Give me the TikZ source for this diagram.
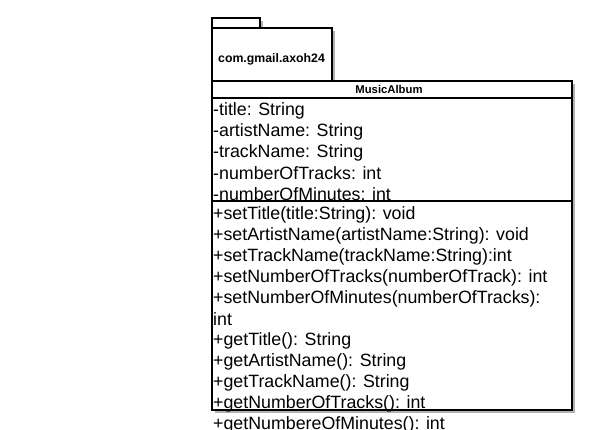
\documentclass[tikz,border=0pt]{standalone}
\usepackage{fontspec}
\setmainfont{Liberation Sans}
\usetikzlibrary{positioning}

\begin{document}
\begin{tikzpicture}[
  x=1pt, y=-1pt,
  every node/.style={inner sep=0pt},
  shadow/.style={fill=black!30, draw=none},
  frame/.style={rectangle, draw=black, line width=1.6pt, fill=white, anchor=north west},
  member/.style={anchor=west, font=\fontsize{17.8}{20}\selectfont},
  caption/.style={font=\bfseries\fontsize{11.3}{13}\selectfont},
  sep/.style={draw=black, line width=1.6pt},
]
\useasboundingbox[fill=white] (0,0) rectangle (593,430);

% shadows
\fill[shadow] (215,21) rectangle (263,31);
\fill[shadow] (215,31) rectangle (335,84);
\fill[shadow] (215,84) rectangle (575,413);

% package
\node[frame, minimum width=48pt, minimum height=10pt]  (tab) at (211,17) {};
\node[frame, minimum width=120pt, minimum height=53pt] (pkg) at (211,27) {};
\node[caption, font=\bfseries\fontsize{12.3}{14}\selectfont, anchor=west]
     (pkgname) at (218,59) {com.gmail.axoh24};

% class box
\node[frame, minimum width=360pt, minimum height=329pt] (cls) at (211,80) {};
\node[caption] (clsname) at (389,89) {MusicAlbum};
\draw[sep] (cls.north west) ++(0,18)  -- ++(360,0);
\draw[sep] (cls.north west) ++(0,121) -- ++(360,0);

% attributes
\node[member] (a1) at (213,110.5) {-title: String};
\node[member, below=21pt of a1.west, anchor=west] (a2) {-artistName: String};
\node[member, below=21pt of a2.west, anchor=west] (a3) {-trackName: String};
\node[member, below=21pt of a3.west, anchor=west] (a4) {-numberOfTracks: int};
\node[member, below=21pt of a4.west, anchor=west] (a5) {-numberOfMinutes: int};

% operations
\node[member] (m1) at (213,214.5) {+setTitle(title:String): void};
\node[member, below=21pt of m1.west, anchor=west] (m2) {+setArtistName(artistName:String): void};
\node[member, below=21pt of m2.west, anchor=west] (m3) {+setTrackName(trackName:String):int};
\node[member, below=21pt of m3.west, anchor=west] (m4) {+setNumberOfTracks(numberOfTrack): int};
\node[member, below=21pt of m4.west, anchor=west] (m5) {+setNumberOfMinutes(numberOfTracks):};
\node[member, below=21pt of m5.west, anchor=west] (m6) {int};
\node[member, below=21pt of m6.west, anchor=west] (m7) {+getTitle(): String};
\node[member, below=21pt of m7.west, anchor=west] (m8) {+getArtistName(): String};
\node[member, below=21pt of m8.west, anchor=west] (m9) {+getTrackName(): String};
\node[member, below=21pt of m9.west, anchor=west] (m10) {+getNumberOfTracks(): int};
\node[member, below=21pt of m10.west, anchor=west] (m11) {+getNumbereOfMinutes(): int};

\end{tikzpicture}
\end{document}
